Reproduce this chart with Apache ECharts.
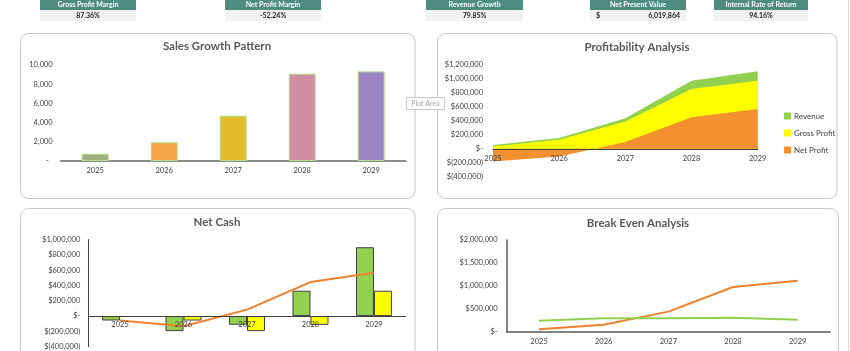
<!DOCTYPE html>
<html>
<head>
<meta charset="utf-8">
<script src="https://cdn.jsdelivr.net/npm/echarts@6/dist/echarts.min.js"></script>
<style>
  html, body { margin: 0; padding: 0; background: #fff; }
  #main { width: 850px; height: 351px; }
</style>
</head>
<body>
<div id="main"></div>
<script>
// 年份
const years = ['2025', '2026', '2027', '2028', '2029'];
// 销量
const salesUnits = [760, 1950, 4720, 9100, 9340];
// 盈利
const revenue = [55000, 153000, 438000, 976000, 1112000];
const grossProfit = [33000, 130000, 390000, 857000, 976000];
const netProfit = [-181000, -110000, 96000, 453000, 571000];
// 现金
const cashFlow = [-58000, -197000, -114000, 331000, 899000];
const priorCash = [0, -58000, -197000, -114000, 331000];
const netCash = [-58000, -132000, 84000, 444000, 565000];
// 盈亏平衡
const breakEven = [239000, 291000, 291000, 304000, 261000];
// KPI
const kpiLabels = ['Gross Profit Margin', 'Net Profit Margin', 'Revenue Growth', 'Net Present Value', 'Internal Rate of Return'];
const kpiValues = ['87.36%', '-52.24%', '79.85%', '6,019,864', '94.16%'];

const barColors = ['#9fb07f', '#f2a446', '#e4bd2c', '#cf8ea3', '#9d84c3'];
const FONT = 'Lato, "Open Sans", sans-serif';
const labelStyle = { fontFamily: FONT, fontSize: 7.5, color: '#404040' };

function usd(v) {
  if (v === 0) return '$-';
  const s = Math.abs(v).toLocaleString('en-US');
  return v < 0 ? '$(' + s + ')' : '$' + s;
}

// 网格区域 (像素)
const g2 = { left: 493, right: 92.3, top: 65, bottom: 174.3, min: -400000, max: 1200000 };
const g3 = { left: 88.3, right: 444.3, top: 239.5, bottom: 4.3, min: -400000, max: 1000000 };
// 类目轴放在零线上
function zeroOffset(g) {
  const h = 351 - g.top - g.bottom;
  return -h * (0 - g.min) / (g.max - g.min);
}

const chart = echarts.init(document.getElementById('main'));

// 顶部 KPI 框
const kpiX = [40, 225, 426, 590, 714];
const kpiW = [96, 96, 97, 96, 94];
const graphics = [];
kpiLabels.forEach((name, i) => {
  const x = kpiX[i], w = kpiW[i];
  graphics.push({ type: 'rect', shape: { x: x, y: 0, width: w, height: 10 }, style: { fill: '#4f8c80' }, silent: true });
  graphics.push({ type: 'rect', shape: { x: x, y: 10, width: w, height: 11 }, style: { fill: '#f2f2f2' }, silent: true });
  graphics.push({ type: 'text', x: x + w / 2, y: 5, style: { text: name, fill: '#fff', font: 'bold 7px ' + FONT, textAlign: 'center', textVerticalAlign: 'middle' } });
  if (i === 3) {
    graphics.push({ type: 'text', x: x + 6, y: 15.5, style: { text: '$', fill: '#222', font: 'bold 7px ' + FONT, textAlign: 'left', textVerticalAlign: 'middle' } });
    graphics.push({ type: 'text', x: x + w - 6, y: 15.5, style: { text: kpiValues[i], fill: '#222', font: 'bold 7px ' + FONT, textAlign: 'right', textVerticalAlign: 'middle' } });
  } else {
    graphics.push({ type: 'text', x: x + w / 2, y: 15.5, style: { text: kpiValues[i], fill: '#222', font: 'bold 7px ' + FONT, textAlign: 'center', textVerticalAlign: 'middle' } });
  }
});

// 卡片边框
const cards = [
  { x: 20.5, y: 33.5, w: 394.5, h: 165 },
  { x: 437.5, y: 33.5, w: 399.5, h: 165 },
  { x: 20.5, y: 208.5, w: 394.5, h: 160 },
  { x: 437.5, y: 208.5, w: 401, h: 160 }
];
cards.forEach(c => {
  graphics.push({ type: 'rect', shape: { x: c.x, y: c.y, width: c.w, height: c.h, r: 8 }, style: { fill: 'none', stroke: '#c8c8c8', lineWidth: 1 }, silent: true });
});
graphics.push({ type: 'line', shape: { x1: 848.5, y1: 0, x2: 848.5, y2: 351 }, style: { stroke: '#d6d6d6', lineWidth: 1 }, silent: true });

// 标题
const titles = [
  { t: 'Sales Growth Pattern', x: 217, y: 46 },
  { t: 'Profitability Analysis', x: 637, y: 47 },
  { t: 'Net Cash', x: 217, y: 222 },
  { t: 'Break Even Analysis', x: 638, y: 223 }
];
titles.forEach(o => {
  graphics.push({ type: 'text', x: o.x, y: o.y, style: { text: o.t, fill: '#595959', font: 'bold 11.5px ' + FONT, textAlign: 'center', textVerticalAlign: 'middle' } });
});

// Plot Area 提示
graphics.push({ type: 'rect', z: 100, shape: { x: 406.5, y: 97.5, width: 38, height: 12 }, style: { fill: '#fff', stroke: '#c8c8c8', lineWidth: 1 } });
graphics.push({ type: 'text', z: 101, x: 425.5, y: 103.5, style: { text: 'Plot Area', fill: '#a6a6a6', font: '7px ' + FONT, textAlign: 'center', textVerticalAlign: 'middle' } });

chart.setOption({
  animation: false,
  textStyle: { fontFamily: FONT },
  graphic: { elements: graphics },
  grid: [
    { left: 60.7, right: 444.3, top: 65, bottom: 190 },
    { left: g2.left, right: g2.right, top: g2.top, bottom: g2.bottom },
    { left: g3.left, right: g3.right, top: g3.top, bottom: g3.bottom },
    { left: 506.7, right: 20, top: 240, bottom: 19.3 }
  ],
  legend: {
    data: ['Revenue', 'Gross Profit', 'Net Profit'],
    orient: 'vertical',
    left: 779,
    top: 107,
    icon: 'rect',
    itemWidth: 7,
    itemHeight: 7,
    itemGap: 9,
    textStyle: { fontFamily: FONT, fontSize: 8, color: '#404040', padding: [0, 0, 0, -2] }
  },
  xAxis: [
    { gridIndex: 0, type: 'category', data: years, axisTick: { show: false },
      axisLine: { lineStyle: { color: '#8c8c8c', width: 2 } }, axisLabel: Object.assign({ margin: 6 }, labelStyle) },
    { gridIndex: 1, type: 'category', data: years, boundaryGap: false, z: 10, axisTick: { show: false },
      offset: zeroOffset(g2),
      axisLine: { onZero: false, lineStyle: { color: '#404040', width: 1 } }, axisLabel: Object.assign({ margin: 6 }, labelStyle) },
    { gridIndex: 2, type: 'category', data: years, z: 10, axisTick: { show: false },
      offset: zeroOffset(g3),
      axisLine: { onZero: false, lineStyle: { color: '#404040', width: 1 } }, axisLabel: Object.assign({ margin: 5 }, labelStyle) },
    { gridIndex: 3, type: 'category', data: years, axisTick: { show: false },
      axisLine: { lineStyle: { color: '#595959', width: 1.5 } }, axisLabel: Object.assign({ margin: 6 }, labelStyle) }
  ],
  yAxis: [
    { gridIndex: 0, type: 'value', min: 0, max: 10000, interval: 2000, splitLine: { show: false },
      axisLabel: Object.assign({ margin: 8, formatter: v => v === 0 ? '-  ' : v.toLocaleString('en-US') }, labelStyle) },
    { gridIndex: 1, type: 'value', min: g2.min, max: g2.max, interval: 200000, splitLine: { show: false },
      axisLabel: Object.assign({ margin: 10, formatter: usd }, labelStyle) },
    { gridIndex: 2, type: 'value', min: g3.min, max: g3.max, interval: 200000, splitLine: { show: false },
      axisLine: { show: true, lineStyle: { color: '#404040', width: 1 } },
      axisLabel: Object.assign({ margin: 8, formatter: usd }, labelStyle) },
    { gridIndex: 3, type: 'value', min: 0, max: 2000000, interval: 500000, splitLine: { show: false },
      axisLine: { show: true, lineStyle: { color: '#595959', width: 1.5 } },
      axisLabel: Object.assign({ margin: 9, formatter: usd }, labelStyle) }
  ],
  series: [
    { type: 'bar', xAxisIndex: 0, yAxisIndex: 0, barWidth: 27,
      data: salesUnits.map((v, i) => ({ value: v, itemStyle: { color: barColors[i] } })),
      itemStyle: { borderColor: '#b4e08a', borderWidth: 1 } },

    { name: 'Revenue', type: 'line', xAxisIndex: 1, yAxisIndex: 1, data: revenue, symbol: 'none',
      color: '#92d050', lineStyle: { width: 0 }, areaStyle: { color: '#92d050', opacity: 1 } },
    { name: 'Gross Profit', type: 'line', xAxisIndex: 1, yAxisIndex: 1, data: grossProfit, symbol: 'none',
      color: '#ffff00', lineStyle: { width: 0 }, areaStyle: { color: '#ffff00', opacity: 1 } },
    { name: 'Net Profit', type: 'line', xAxisIndex: 1, yAxisIndex: 1, data: netProfit, symbol: 'none',
      color: '#f39131', lineStyle: { width: 0 }, areaStyle: { color: '#f39131', opacity: 1 } },

    { type: 'bar', xAxisIndex: 2, yAxisIndex: 2, data: cashFlow, barWidth: 18, barGap: '0%',
      itemStyle: { color: '#92d050', borderColor: '#404040', borderWidth: 1 } },
    { type: 'bar', xAxisIndex: 2, yAxisIndex: 2, barWidth: 18, barGap: '0%',
      data: priorCash.map(v => (v === 0 ? '-' : v)),
      itemStyle: { color: '#ffff00', borderColor: '#404040', borderWidth: 1 } },
    { type: 'line', xAxisIndex: 2, yAxisIndex: 2, data: netCash, symbol: 'none', z: 5,
      lineStyle: { color: '#f0802c', width: 2 } },

    { type: 'line', xAxisIndex: 3, yAxisIndex: 3, data: revenue, symbol: 'none',
      lineStyle: { color: '#f0802c', width: 2 } },
    { type: 'line', xAxisIndex: 3, yAxisIndex: 3, data: breakEven, symbol: 'none',
      lineStyle: { color: '#92d050', width: 2 } }
  ]
});
</script>
</body>
</html>
